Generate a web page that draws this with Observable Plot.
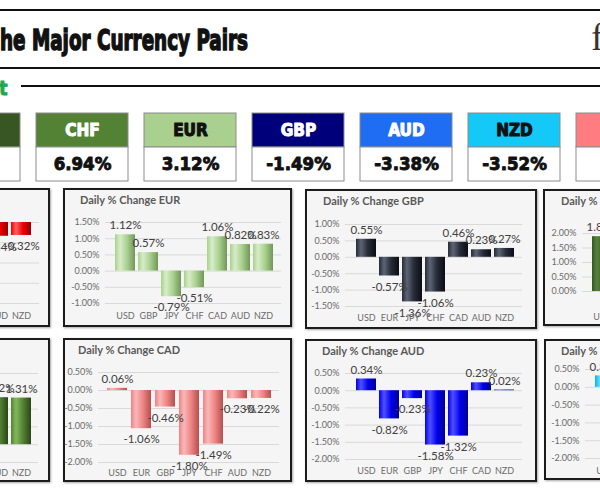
<!DOCTYPE html>
<html><head><meta charset="utf-8">
<script src="https://cdn.jsdelivr.net/npm/d3@7"></script>
<script src="https://cdn.jsdelivr.net/npm/@observablehq/plot@0.6"></script>
<style>
html,body{margin:0;padding:0;background:#fff;}
#root{position:relative;width:600px;height:504px;overflow:hidden;background:#fff;}
.abs{position:absolute;white-space:nowrap;}
.panel{position:absolute;box-sizing:border-box;border:2px solid #1c1c1c;background:#f5f5f5;box-shadow:1px 1px 2px rgba(0,0,0,0.35);}
.panel svg{position:absolute;left:0;top:0;}
.ptitle{position:absolute;font:bold 11px Lato, sans-serif;color:#595959;white-space:nowrap;line-height:14px;}
</style></head>
<body><div id="root"></div>
<script>
// ---------- data ----------
const allCurrencies = ["USD","EUR","GBP","JPY","CHF","CAD","AUD","NZD"];
const usdChange = [-1.12, -0.55, -1.89, -1.63, -0.06, -0.34, -0.32];
const eurChange = [1.12, 0.57, -0.79, -0.51, 1.06, 0.82, 0.83];
const gbpChange = [0.55, -0.57, -1.36, -1.06, 0.46, 0.23, 0.27];
const jpyChange = [1.89, 0.79, 1.36, 0.27, 1.80, 1.58, 1.57];
const chfChange = [1.63, 0.51, 1.06, -0.27, 1.49, 1.32, 1.31];
const cadChange = [0.06, -1.06, -0.46, -1.80, -1.49, -0.23, -0.22];
const audChange = [0.34, -0.82, -0.23, -1.58, -1.32, 0.23, 0.02];
const nzdChange = [0.32, -0.83, -0.27, -1.57, -1.31, 0.22, -0.02];

const tileCurrencies = ["JPY","CHF","EUR","GBP","AUD","NZD","CAD"];
const tileValues = [null, 6.94, 3.12, -1.49, -3.38, -3.52, null];
const tileHeadColors = ["#375623","#548235","#a9d08e","#00007a","#1f6df2","#14c8f8","#ff7c80"];
const tileInkColors = ["#ffffff","#ffffff","#111111","#ffffff","#ffffff","#111111","#111111"];

const ticksUSD = [0, -0.5, -1, -1.5, -2];
const ticksEUR = [1.5, 1, 0.5, 0, -0.5, -1];
const ticksGBP = [1, 0.5, 0, -0.5, -1, -1.5];
const ticksJPY = [2, 1.5, 1, 0.5, 0];
const ticksCHF = [2, 1.5, 1, 0.5, 0, -0.5];
const ticksCAD = [0.5, 0, -0.5, -1, -1.5, -2];
const ticksAUD = [0.5, 0, -0.5, -1, -1.5, -2];
const ticksNZD = [0.5, 0, -0.5, -1, -1.5, -2];

// ---------- helpers ----------
const root = document.getElementById("root");
const NARROW = '"Liberation Sans Narrow","DejaVu Sans Condensed","Arial Narrow",sans-serif';
function div(css, text, cls) {
  const d = document.createElement("div");
  d.className = cls || "abs";
  d.style.cssText += css;
  if (text != null) d.textContent = text;
  root.appendChild(d);
  return d;
}

// ---------- header ----------
div("left:0;top:9px;width:600px;height:2px;background:#111;");
div("left:0;top:67px;width:600px;height:2px;background:#111;");
div("left:21px;top:85px;width:579px;height:2px;background:#111;");
const title = div(`left:0;top:25.5px;font-family:${NARROW};font-weight:bold;font-size:29px;line-height:29px;color:#111;-webkit-text-stroke:1.5px #111;transform-origin:0 0;`, "he Major Currency Pairs");
const tw = title.getBoundingClientRect().width;
title.style.transform = `scaleX(${248 / tw})`;
div(`left:-1px;top:78px;font-family:${NARROW};font-weight:bold;font-size:20px;line-height:20px;color:#1fa84f;-webkit-text-stroke:0.8px #1fa84f;`, "t");
div(`left:591px;top:18px;font-family:"Liberation Serif","DejaVu Serif",serif;font-size:38px;line-height:38px;color:#333;`, "f");

// ---------- tiles ----------
const tiles = tileCurrencies.map((c, i) => ({cur: c, val: tileValues[i], headColor: tileHeadColors[i], ink: tileInkColors[i]}));
const tilePlot = Plot.plot({
  width: 800, height: 74,
  marginLeft: 10.2, marginRight: 14.6, marginTop: 2, marginBottom: 3,
  x: {type: "band", domain: tileCurrencies, padding: 0.151, axis: null},
  y: {type: "band", domain: ["head", "val"], padding: 0, axis: null},
  color: {type: "identity"},
  style: {background: "transparent", maxWidth: "none", overflow: "visible"},
  marks: [
    Plot.cell(tiles, {x: "cur", y: () => "head", fill: "headColor", stroke: "#8c8c8c", strokeWidth: 1}),
    Plot.cell(tiles, {x: "cur", y: () => "val", fill: "#ffffff", stroke: "#8c8c8c", strokeWidth: 1}),
    Plot.text(tiles, {x: "cur", y: () => "head", text: "cur", fill: "ink", stroke: "ink", strokeWidth: 1,
      fontSize: 17, fontWeight: "bold", fontFamily: NARROW}),
    Plot.text(tiles.filter(d => d.val != null), {x: "cur", y: () => "val", text: d => d.val.toFixed(2) + "%",
      fill: "#111", stroke: "#111", strokeWidth: 0.9, fontSize: 18.5, fontWeight: "bold", fontFamily: NARROW})
  ]
});
tilePlot.style.position = "absolute";
tilePlot.style.left = "-100px";
tilePlot.style.top = "110px";
root.appendChild(tilePlot);

// ---------- panels ----------
const gradients = {
  usd: ["#ff6060", "#ee0000", "#960000"],
  eur: ["#d8ecc8", "#a9d18e", "#72965a"],
  gbp: ["#5d6474", "#262b37", "#0b0d13"],
  jpy: ["#56843a", "#375623", "#1a2d0f"],
  chf: ["#84b85a", "#548235", "#2a4618"],
  cad: ["#fab8b8", "#ee8484", "#b64f4f"],
  aud: ["#5050ff", "#0000ee", "#000094"],
  nzd: ["#70e0ff", "#00b4f0", "#006c9c"]
};
const fmt = v => v.toFixed(2) + "%";

function panel(cfg) {
  const {key, name, values, ticks, box, bars, grid, y, xlab, title} = cfg;
  const [L, T, W, H] = box;
  const ox = L + 2, oy = T + 2, w = W - 4, h = H - 4;
  const cats = allCurrencies.filter(c => c !== name);
  const data = cats.map((c, i) => ({cat: c, v: values[i]}));
  const p = 0.15, n = cats.length;
  const step = (bars[1] - bars[0]) / (n - p);
  const r1 = bars[0] - p * step, r2 = bars[1] + p * step;
  const [[vTop, pTop], [vBot, pBot]] = y;
  const el = div(`left:${L}px;top:${T}px;width:${W}px;height:${H}px;`, null, "panel");
  const svg = Plot.plot({
    width: w, height: h,
    marginLeft: grid[0] - ox, marginRight: ox + w - grid[1],
    marginTop: pTop - oy, marginBottom: oy + h - pBot,
    style: {background: "transparent", maxWidth: "none", overflow: "visible",
      fontFamily: "Lato, sans-serif", fontSize: "9px", color: "#6b6b6b"},
    x: {type: "band", domain: cats, padding: p, insetLeft: r1 - grid[0], insetRight: grid[1] - r2},
    y: {domain: [vBot, vTop]},
    marks: [
      Plot.ruleY(ticks, {stroke: "#d9d9d9", strokeWidth: 1}),
      Plot.barY(data, {x: "cat", y: "v", fill: `url(#g-${key})`}),
      Plot.text(data.filter(d => d.v >= 0), {x: "cat", y: "v", text: d => fmt(d.v), dy: -9,
        fontSize: 11.5, fill: "#404040"}),
      Plot.text(data.filter(d => d.v < 0), {x: "cat", y: "v", text: d => fmt(d.v), dy: 11,
        fontSize: 11.5, fill: "#404040"}),
      Plot.axisY({ticks, tickSize: 0, tickPadding: 6, tickFormat: fmt, label: null}),
      Plot.axisX({tickSize: 0, tickPadding: xlab - pBot - 3, label: null})
    ]
  });
  const g = gradients[key];
  const lg = d3.select(svg).insert("defs", ":first-child")
    .append("linearGradient").attr("id", `g-${key}`).attr("x1", 0).attr("x2", 1).attr("y1", 0).attr("y2", 0);
  lg.append("stop").attr("offset", "0%").attr("stop-color", g[1]);
  lg.append("stop").attr("offset", "25%").attr("stop-color", g[0]);
  lg.append("stop").attr("offset", "60%").attr("stop-color", g[1]);
  lg.append("stop").attr("offset", "100%").attr("stop-color", g[2]);
  el.appendChild(svg);
  const t = document.createElement("div");
  t.className = "ptitle";
  t.style.left = (title[0] - ox) + "px";
  t.style.top = (title[1] - oy - 7) + "px";
  t.textContent = "Daily % Change " + name;
  el.appendChild(t);
}

panel({key: "usd", name: "USD", values: usdChange, ticks: ticksUSD, box: [-179, 188, 229, 139],
  bars: [-129, 33], grid: [-137, 39], y: [[0, 222], [-2, 303]], xlab: 315, title: [-162, 200]});
panel({key: "eur", name: "EUR", values: eurChange, ticks: ticksEUR, box: [63, 188, 229, 139],
  bars: [113, 275], grid: [105, 281], y: [[1.5, 222], [-1, 303]], xlab: 315, title: [80, 200]});
panel({key: "gbp", name: "GBP", values: gbpChange, ticks: ticksGBP, box: [305, 189, 232, 140],
  bars: [354, 516], grid: [345, 522], y: [[1, 224], [-1.5, 306]], xlab: 317, title: [323, 201]});
panel({key: "jpy", name: "JPY", values: jpyChange, ticks: ticksJPY, box: [543, 189, 232, 137],
  bars: [590, 752], grid: [582, 758], y: [[2, 233], [0, 291]], xlab: 316, title: [561, 201]});
panel({key: "chf", name: "CHF", values: chfChange, ticks: ticksCHF, box: [-179, 338, 229, 144],
  bars: [-129, 32], grid: [-137, 38], y: [[2, 373], [-0.5, 462]], xlab: 472, title: [-162, 350]});
panel({key: "cad", name: "CAD", values: cadChange, ticks: ticksCAD, box: [63, 338, 229, 144],
  bars: [106, 272], grid: [98, 279], y: [[0.5, 372], [-2, 462]], xlab: 472, title: [78, 350]});
panel({key: "aud", name: "AUD", values: audChange, ticks: ticksAUD, box: [305, 339, 232, 143],
  bars: [353, 516], grid: [345, 522], y: [[0.5, 373], [-2, 459]], xlab: 470, title: [322, 351]});
panel({key: "nzd", name: "NZD", values: nzdChange, ticks: ticksNZD, box: [544, 339, 232, 141],
  bars: [593, 755], grid: [585, 761], y: [[0.5, 369], [-2, 458]], xlab: 470, title: [561, 351]});
</script>
</body></html>
